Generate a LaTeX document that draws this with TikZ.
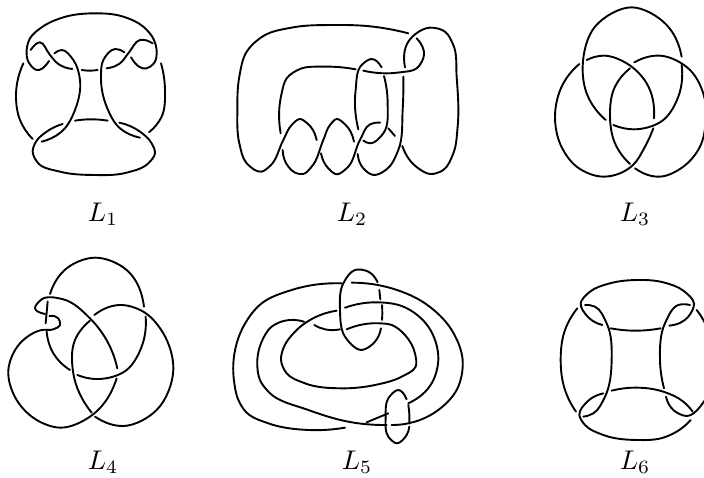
\documentclass[tikz,border=0pt]{standalone}
\tikzset{knot/.style={line width=1.9pt,line cap=round,line join=round,black},
 lab/.style={scale=2.7,inner sep=0pt,anchor=base},
 zoomed/.style={x=33.33pt,y=-33.33pt}}
\makeatletter
\newcount\kn@n \newcount\kn@i \newcount\kn@p \newcount\kn@q
\def\kn@add(#1,#2){\global\advance\kn@n by 1
 \pgfmathsetmacro\kn@t{#1/100}\expandafter\xdef\csname kx\the\kn@n\endcsname{\kn@t}%
 \pgfmathsetmacro\kn@t{#2/100}\expandafter\xdef\csname ky\the\kn@n\endcsname{\kn@t}%
 \@ifnextchar(\kn@add\relax}
\def\kn@pt#1#2#3{\edef#1{\csname kx\number#3\endcsname}\edef#2{\csname ky\number#3\endcsname}}
\def\kn@tangents{%
 \kn@i=2
 \loop\ifnum\kn@i<\kn@n
  \kn@p=\kn@i \advance\kn@p by -1 \kn@q=\kn@i \advance\kn@q by 1
  \kn@pt\kna\knb\kn@p \kn@pt\knc\kne\kn@i \kn@pt\knf\kng\kn@q
  \pgfmathsetmacro\knA{veclen(\knc-\kna,\kne-\knb)}%
  \pgfmathsetmacro\knB{veclen(\knf-\knc,\kng-\kne)}%
  \pgfmathsetmacro\knu{((\knc-\kna)/\knA*\knB+(\knf-\knc)/\knB*\knA)/(\knA+\knB)}%
  \pgfmathsetmacro\knv{((\kne-\knb)/\knA*\knB+(\kng-\kne)/\knB*\knA)/(\knA+\knB)}%
  \expandafter\xdef\csname tx\the\kn@i\endcsname{\knu}%
  \expandafter\xdef\csname ty\the\kn@i\endcsname{\knv}%
  \advance\kn@i by 1
 \repeat
 % first end
 \kn@i=1 \kn@q=2 \kn@p=3
 \kn@pt\kna\knb\kn@i \kn@pt\knc\kne\kn@q
 \ifnum\kn@n>2
  \edef\knu{\csname tx2\endcsname}\edef\knv{\csname ty2\endcsname}%
 \else \def\knu{0}\def\knv{0}\fi
 \pgfmathsetmacro\knA{veclen(\knc-\kna,\kne-\knb)}%
 \pgfmathsetmacro\knp{2*(\knc-\kna)/\knA-(\knu)}%
 \pgfmathsetmacro\knr{2*(\kne-\knb)/\knA-(\knv)}%
 \ifnum\kn@n=2 \pgfmathsetmacro\knp{(\knc-\kna)/\knA}\pgfmathsetmacro\knr{(\kne-\knb)/\knA}\fi
 \expandafter\xdef\csname tx1\endcsname{\knp}\expandafter\xdef\csname ty1\endcsname{\knr}%
 % last end
 \kn@i=\kn@n \kn@q=\kn@n \advance\kn@q by -1
 \kn@pt\kna\knb\kn@q \kn@pt\knc\kne\kn@i
 \edef\knu{\csname tx\the\kn@q\endcsname}\edef\knv{\csname ty\the\kn@q\endcsname}%
 \pgfmathsetmacro\knA{veclen(\knc-\kna,\kne-\knb)}%
 \pgfmathsetmacro\knp{2*(\knc-\kna)/\knA-(\knu)}%
 \pgfmathsetmacro\knr{2*(\kne-\knb)/\knA-(\knv)}%
 \ifnum\kn@n=2 \pgfmathsetmacro\knp{(\knc-\kna)/\knA}\pgfmathsetmacro\knr{(\kne-\knb)/\knA}\fi
 \expandafter\xdef\csname tx\the\kn@i\endcsname{\knp}\expandafter\xdef\csname ty\the\kn@i\endcsname{\knr}}
\def\kn@build{%
 \def\kn@path{}%
 \kn@i=1
 \loop\ifnum\kn@i<\kn@n
  \kn@q=\kn@i \advance\kn@q by 1
  \kn@pt\kna\knb\kn@i \kn@pt\knc\kne\kn@q
  \pgfmathsetmacro\knA{veclen(\knc-\kna,\kne-\knb)}%
  \edef\knu{\csname tx\the\kn@i\endcsname}\edef\knv{\csname ty\the\kn@i\endcsname}%
  \edef\knp{\csname tx\the\kn@q\endcsname}\edef\knr{\csname ty\the\kn@q\endcsname}%
  \pgfmathsetmacro\knf{\kna+(\knu)*\knA/3}\pgfmathsetmacro\kng{\knb+(\knv)*\knA/3}%
  \pgfmathsetmacro\knh{\knc-(\knp)*\knA/3}\pgfmathsetmacro\knj{\kne-(\knr)*\knA/3}%
  \edef\kn@path{\kn@path .. controls (\knf,\kng) and (\knh,\knj) .. (\knc,\kne)}%
  \advance\kn@i by 1
 \repeat
 \edef\kn@do{\noexpand\draw[knot] (\csname kx1\endcsname,\csname ky1\endcsname) \kn@path;}\kn@do}
\newcommand\strand[1]{\global\kn@n=0 \kn@add#1\relax\kn@tangents\kn@build}
\makeatother
\begin{document}
\begin{tikzpicture}[x=1pt,y=-1pt]
\useasboundingbox[fill=white] (0,0) rectangle (704,477);
\clip (0,0) rectangle (704,477);
% L1
\begin{scope}[shift={(0pt,0pt)},zoomed]
\strand{(147,183)(110,210)(85,185)(80,150)(90,115)(125,82)(190,52)(280,40)(370,50)(430,80)(462,120)(470,150)(462,190)(440,205)(393,172)}
\strand{(92,150)(120,127)(150,165)(175,192)(217,207)}
\strand{(163,160)(185,150)(220,180)(240,240)(225,330)(190,390)(125,425)}
\strand{(245,210)(270,212)(293,210)}
\strand{(320,205)(360,190)(385,160)(420,120)(458,130)}
\strand{(373,157)(345,147)(310,180)(303,230)(320,320)(360,385)(420,413)}
\strand{(70,190)(48,290)(60,360)(98,417)}
\strand{(483,190)(495,270)(485,350)(447,397)}
\strand{(225,362)(270,358)(323,362)}
\strand{(188,372)(140,395)(108,425)(98,455)(115,490)(180,515)(280,525)(380,518)(445,490)(465,460)(455,430)(420,395)(358,368)}
\end{scope}
% L2
\begin{scope}[shift={(220pt,-10pt)},zoomed]
\strand{(565,70)(460,50)(340,45)(220,52)(130,78)(80,125)(58,200)(52,300)(58,400)(80,460)(125,485)(150,468)(190,390)(215,345)(240,327)(262,340)(290,390)}
\strand{(590,85)(612,135)(590,175)(540,187)(430,182)}
\strand{(407,178)(310,170)(240,177)(200,205)(185,250)(182,370)}
\strand{(188,420)(205,470)(225,488)(250,492)(275,470)(310,390)(330,345)(350,327)(375,343)(402,395)}
\strand{(303,430)(325,475)(350,493)(380,475)(420,390)(450,343)(480,338)}
\strand{(415,358)(407,240)(425,165)(455,147)(485,172)}
\strand{(492,198)(503,280)(490,370)(450,400)(430,392)}
\strand{(413,432)(430,475)(460,495)(500,478)(535,420)(548,300)(550,200)}
\strand{(555,172)(565,95)(630,53)(675,65)(700,105)(710,200)(713,350)(700,430)(670,480)(630,492)(595,475)(547,408)}
\strand{(505,355)(525,378)}
\end{scope}
% L3
\begin{scope}[shift={(540pt,0pt)},zoomed]
\strand{(197,360)(140,280)(128,200)(165,80)(275,22)(380,75)(425,170)}
\strand{(425,195)(415,290)(370,360)(280,388)(220,375)}
\strand{(118,192)(70,250)(45,350)(62,435)(110,500)(190,530)(240,520)(277,497)(315,440)(340,385)}
\strand{(342,355)(320,250)(260,190)(190,167)(140,180)}
\strand{(270,205)(225,260)(210,350)(225,430)(270,492)}
\strand{(285,505)(360,530)(430,500)(480,440)(497,370)(495,300)(450,210)(360,167)(283,187)}
\end{scope}
% L4
\begin{scope}[shift={(0pt,-240pt)},zoomed]
\strand{(150,162)(200,85)(285,53)(380,90)(432,200)}
\strand{(437,230)(425,320)(380,390)(285,417)(232,405)}
\strand{(210,390)(160,340)(140,275)}
\strand{(143,185)(137,250)}
\strand{(148,228)(175,235)(180,255)(160,268)(125,270)(60,310)(25,390)(50,480)(110,540)(180,563)(270,530)(350,415)}
\strand{(135,222)(105,205)(125,178)(190,178)(270,235)(330,320)(352,385)}
\strand{(270,242)(225,300)(220,400)(275,518)}
\strand{(285,530)(370,558)(470,510)(520,390)(490,280)(430,215)(360,195)(283,225)}
\end{scope}
% L5
\begin{scope}[shift={(225pt,-260pt)},zoomed]
\strand{(360,503)(250,510)(130,490)(65,458)(40,420)(28,370)(25,310)(50,210)(110,130)(200,90)(350,70)}
\strand{(380,68)(500,85)(600,130)(680,210)(713,300)(695,390)(640,450)(570,485)(500,495)}
\strand{(485,495)(400,490)(250,450)(130,395)(105,360)(97,320)(110,245)(140,200)(180,182)(237,185)}
\strand{(335,152)(270,172)(210,215)(175,265)(168,300)(185,340)(240,370)(350,385)(450,375)(530,350)(572,320)(570,280)(540,225)(500,195)(465,190)(365,208)}
\strand{(345,208)(300,208)(268,195)}
\strand{(360,143)(450,127)(540,142)(610,200)(640,300)(620,370)(550,430)}
\strand{(490,460)(425,487)}
\strand{(468,205)(450,245)(410,270)(360,230)(345,150)(355,70)(390,30)(430,35)(458,67)}
\strand{(463,90)(466,118)}
\strand{(471,135)(472,160)(471,180)}
\strand{(545,418)(520,390)(490,415)(482,470)(490,530)(515,550)(545,525)(553,500)}
\strand{(550,435)(553,462)(553,490)}
\end{scope}
% L6
\begin{scope}[shift={(540pt,-260pt)},zoomed]
\strand{(187,195)(145,172)(122,130)(150,95)(210,70)(290,60)(370,67)(430,92)(462,130)(445,170)(388,197)}
\strand{(212,205)(290,212)(362,205)}
\strand{(135,135)(165,140)(200,190)(215,300)(195,410)(160,460)(130,470)}
\strand{(450,135)(415,135)(375,190)(360,300)(372,385)}
\strand{(112,145)(75,210)(62,300)(75,390)(108,455)}
\strand{(470,150)(495,190)(510,300)(495,420)(440,468)(400,450)(378,410)}
\strand{(190,400)(145,422)(118,465)(135,495)(190,525)(290,540)(370,533)(425,505)(452,480)}
\strand{(215,392)(290,383)(370,395)(430,425)(458,455)}
\end{scope}
\node[lab] (l1) at (103,221) {$L_1$};
\node[lab] (l2) at (352,221) {$L_2$};
\node[lab] (l3) at (635,221) {$L_3$};
\node[lab] (l4) at (103,469) {$L_4$};
\node[lab] (l5) at (357,469) {$L_5$};
\node[lab] (l6) at (635,469) {$L_6$};
\end{tikzpicture}
\end{document}
